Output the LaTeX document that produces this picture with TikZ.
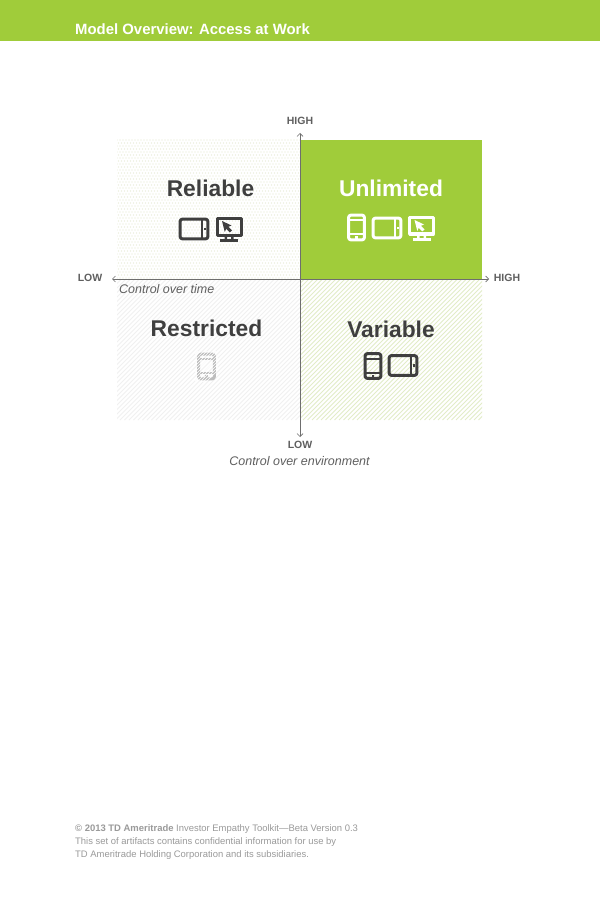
\documentclass[tikz,border=0pt]{standalone}
\usepackage{fontspec}
\setmainfont{Liberation Sans}
\usetikzlibrary{arrows.meta}
\definecolor{brand}{HTML}{A0CC3A}
\definecolor{ink}{HTML}{3F3F3F}
\definecolor{axisgray}{HTML}{6E6E6E}
\definecolor{labelgray}{HTML}{5F5F5F}
\definecolor{footgray}{HTML}{9A9A9A}
\definecolor{dotc}{HTML}{E4E8CF}
\definecolor{hatchgray}{HTML}{F0F0F0}
\definecolor{hatchgreen}{HTML}{E2ECC8}
\definecolor{iconbg}{HTML}{BDBDBD}
\tikzset{
  x=1pt,y=-1pt,
  axisline/.style={draw=axisgray,line width=0.9pt,{Straight Barb[length=3pt,width=6pt,line width=0.7pt]}-{Straight Barb[length=3pt,width=6pt,line width=0.7pt]}},
  axislabel/.style={font=\bfseries\fontsize{10.5}{12}\selectfont,text=labelgray,inner sep=0pt},
  axistitle/.style={font=\itshape\fontsize{12.5}{14}\selectfont,text=labelgray,inner sep=0pt},
  quadtitle/.style={font=\bfseries\fontsize{22.8}{26}\selectfont,inner sep=0pt},
  footline/.style={font=\fontsize{9.45}{11}\selectfont,text=footgray,inner sep=0pt,anchor=base west},
  icon/.style={line width=3pt,line join=round},
  pics/phone/.style={code={
    \draw[icon,draw=#1,rounded corners=2pt] (-7.8,-12.3) rectangle (7.8,12.3);
    \draw[draw=#1,line width=2pt] (-8,-7.5) -- (8,-7.5) (-8,6.5) -- (8,6.5);
    \fill[#1] (-1.3,8.6) rectangle (1.3,11);
  }},
  pics/tablet/.style={code={
    \draw[icon,draw=#1,rounded corners=2pt] (-13.8,-9.8) rectangle (13.8,9.8);
    \draw[draw=#1,line width=2pt] (8,-10) -- (8,10);
    \fill[#1] (9.8,-1.3) rectangle (12.2,1.3);
  }},
  pics/monitor/.style={code={
    \draw[icon,draw=#1] (-12,-10.8) rectangle (12,6);
    \fill[#1] (-4.5,7) rectangle (-2,11) (2,7) rectangle (4.5,11);
    \fill[#1] (-9,10.3) rectangle (9,12.7);
    \fill[#1] (-7,-8) -- (2.5,-3.5) -- (-0.7,-2.2) -- (3,1.5) -- (0.8,3.4) -- (-2.8,-0.3) -- (-4.2,3) -- cycle;
  }}
}
\begin{document}
\begin{tikzpicture}
\useasboundingbox (0,0) rectangle (600,901);
\fill[white] (0,0) rectangle (600,901);
% header
\fill[brand] (0,0) rectangle (600,41.5);
\node[anchor=base west,inner sep=0pt,text=white,font=\bfseries\fontsize{14.9}{16}\selectfont] (title) at (75,34.5) {Model Overview: Access at Work};
% quadrant textures
\begin{scope}
\clip (117,140) rectangle (300,279);
\foreach \r in {0,...,47}{
  \foreach \c in {0,...,62}{
    \fill[dotc] ({117+\c*3+mod(\r,2)*1.5},{140+\r*3}) circle (0.55);
  }
}
\end{scope}
\begin{scope}
\clip (117,279) rectangle (300,420);
\foreach \i in {0,...,75}{
  \draw[hatchgray,line width=0.8pt] ({117+\i*4.5},279) -- ({117+\i*4.5-141},420);
}
\end{scope}
\begin{scope}
\clip (300,279) rectangle (482,420);
\foreach \i in {0,...,75}{
  \draw[hatchgreen,line width=0.9pt] ({300+\i*4.5},279) -- ({300+\i*4.5-141},420);
}
\end{scope}
\fill[brand] (300,140) rectangle (482,279);
% axes
\coordinate (axL) at (112,279);
\coordinate (axR) at (489,279);
\coordinate (axT) at (300,133);
\coordinate (axB) at (300,437);
\draw[axisline] (axL) -- (axR);
\draw[axisline] (axB) -- (axT);
% axis labels
\node[axislabel] (hiT) at (300,121) {HIGH};
\node[axislabel] (loB) at (300,445) {LOW};
\node[axislabel] (loL) at (90,278) {LOW};
\node[axislabel] (hiR) at (507,278) {HIGH};
\node[axistitle,anchor=base west] (ctime) at (119,293.5) {Control over time};
\node[axistitle] (cenv) at (299.5,461) {Control over environment};
% quadrant titles
\node[quadtitle,text=ink] (reliable) at (210.5,188.5) {Reliable};
\node[quadtitle,text=white] (unlimited) at (391,188.5) {Unlimited};
\node[quadtitle,text=ink] (restricted) at (206.5,328.5) {Restricted};
\node[quadtitle,text=ink] (variable) at (391,329) {Variable};
% icons
\pic at (194,229) {tablet=ink};
\pic at (229,229) {monitor=ink};
\pic at (356.5,227.5) {phone=white};
\pic at (387,228) {tablet=white};
\pic at (421.5,228) {monitor=white};
\pic at (373,366) {phone=ink};
\pic at (403,365.5) {tablet=ink};
\pic at (206.5,366.5) {phone=iconbg};
\begin{scope}
\clip (195,351) rectangle (218,382);
\foreach \i in {0,...,14}{
  \draw[white,line width=0.4pt] ({195+\i*3},351) -- ({195+\i*3-31},382);
}
\end{scope}
% footer
\node[footline] (f1) at (75,831.5) {\textbf{© 2013 TD Ameritrade} Investor Empathy Toolkit—Beta Version 0.3};
\node[footline] (f2) at (75,844.5) {This set of artifacts contains confidential information for use by};
\node[footline] (f3) at (75,857.5) {TD Ameritrade Holding Corporation and its subsidiaries.};
\end{tikzpicture}
\end{document}
